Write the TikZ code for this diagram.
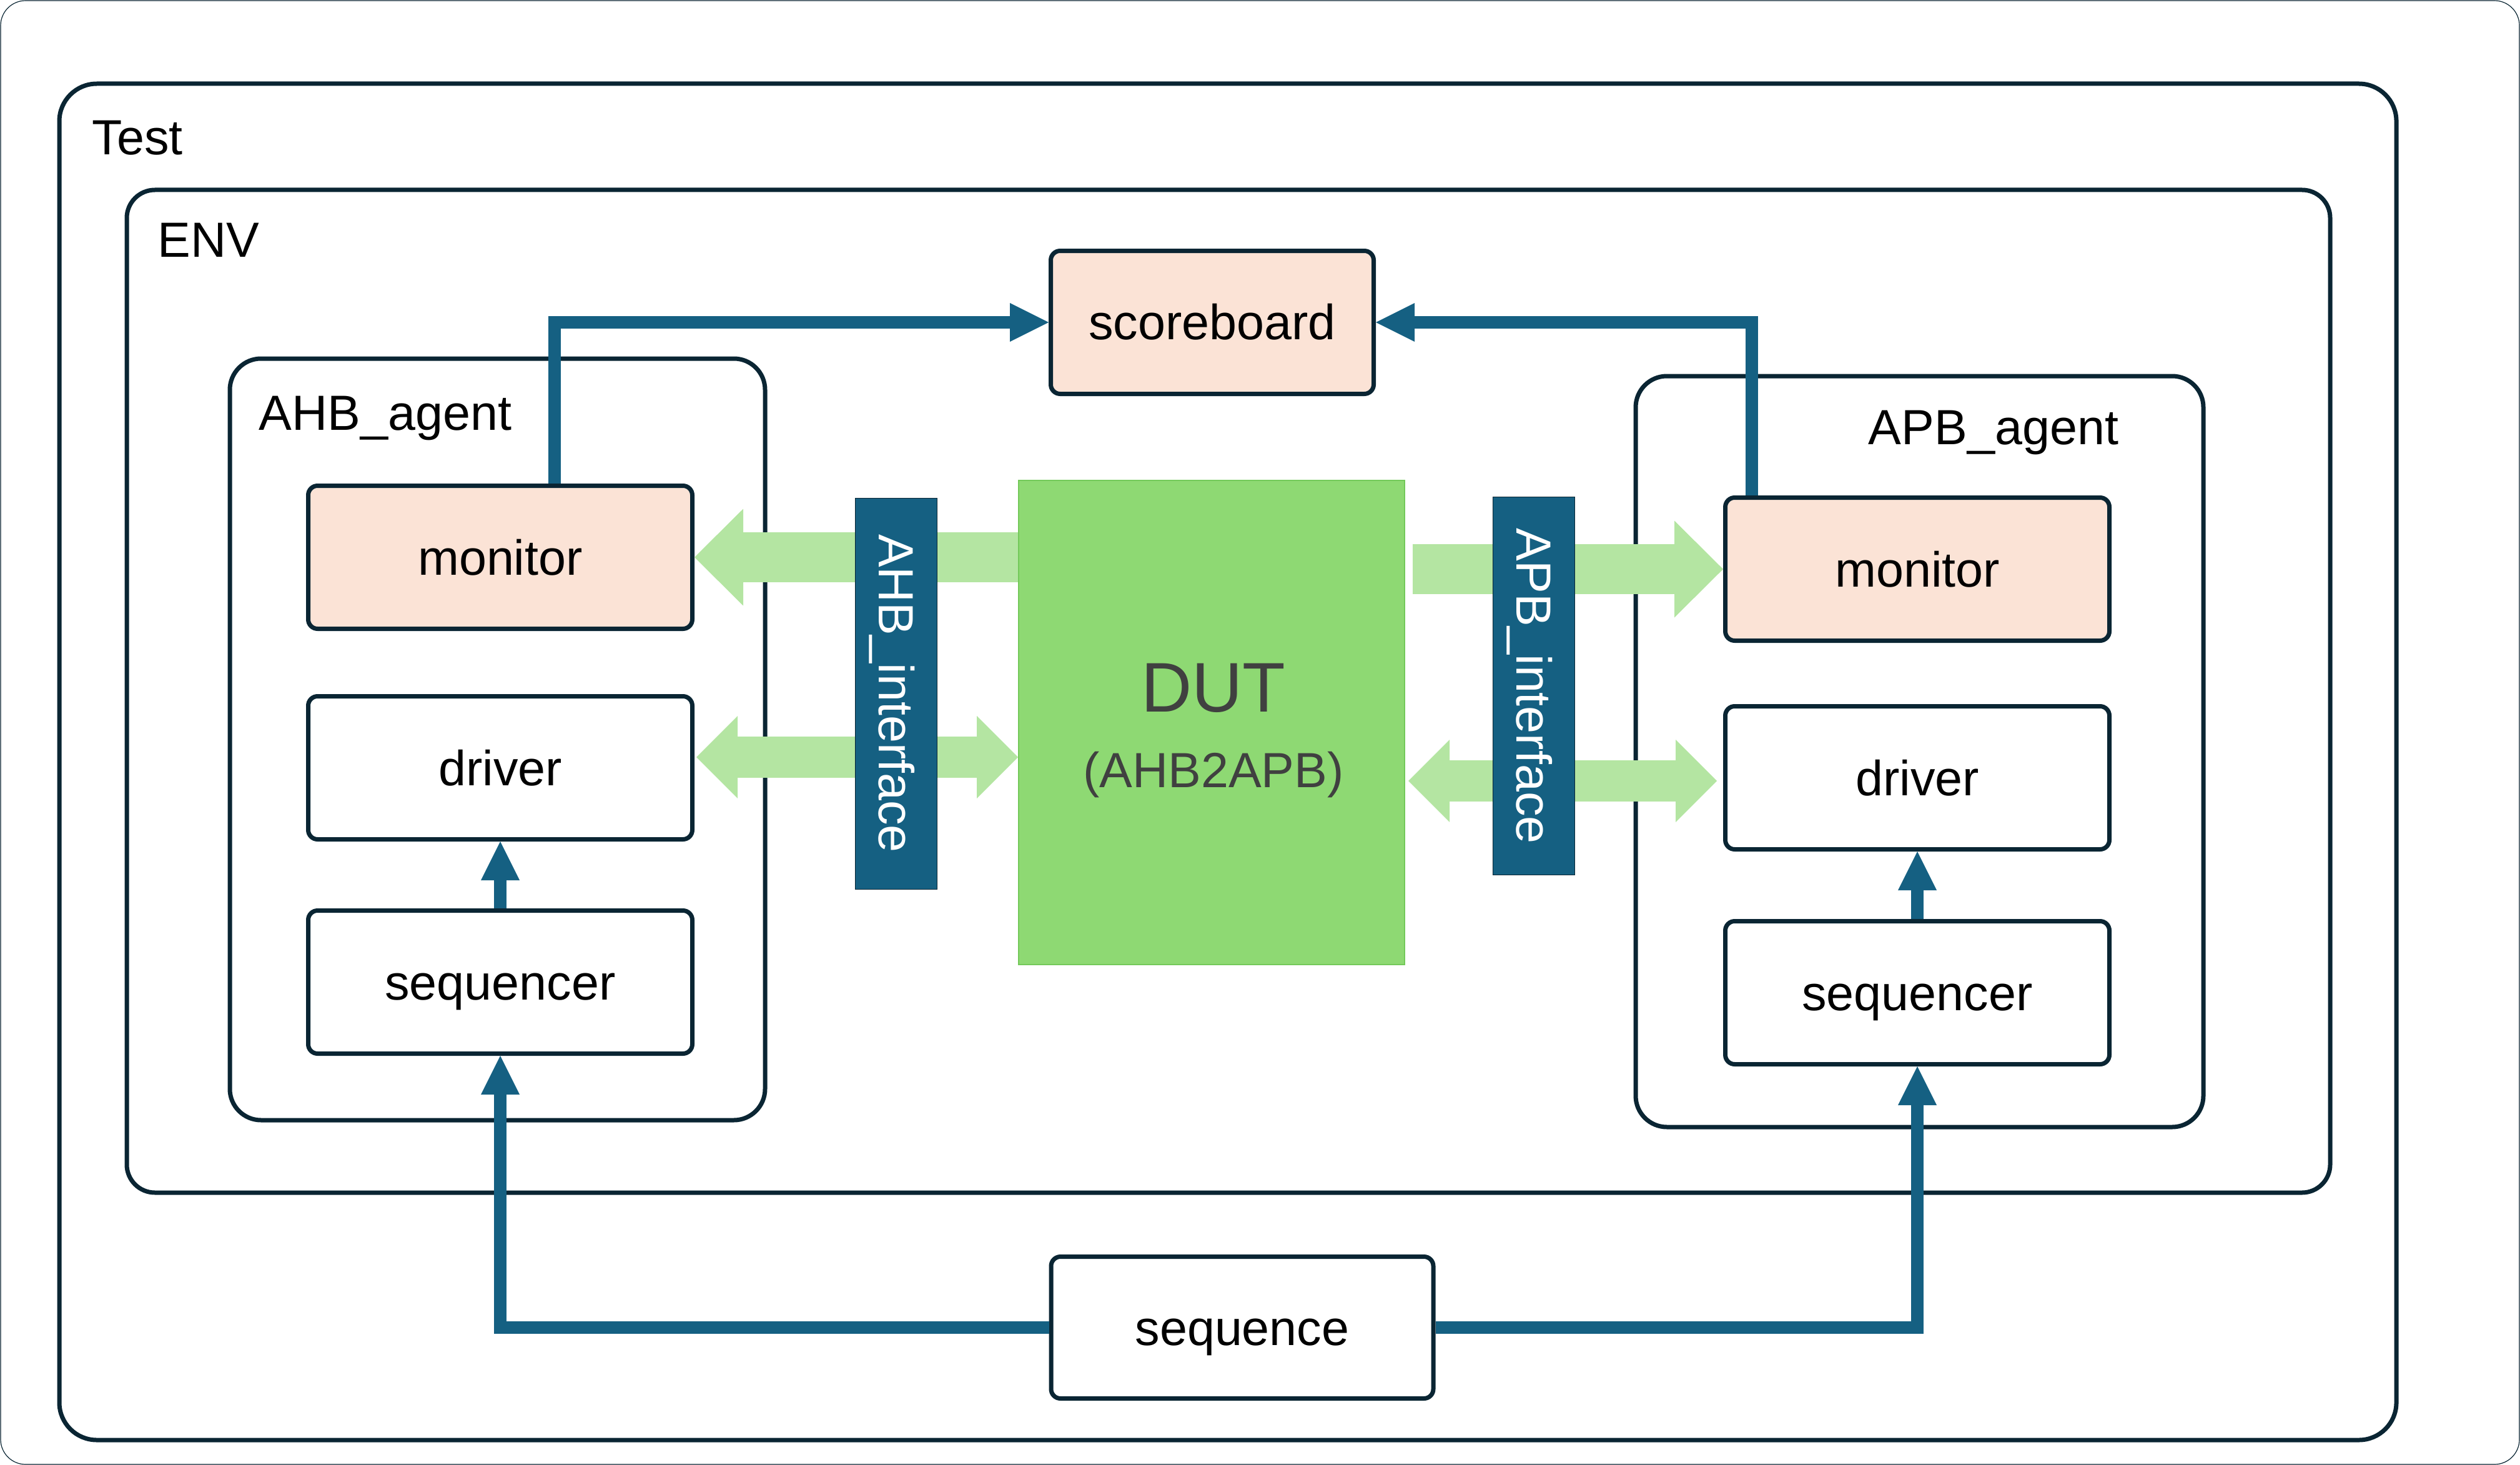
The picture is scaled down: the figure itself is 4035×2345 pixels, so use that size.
\documentclass[tikz,border=0pt]{standalone}
\usepackage{fontspec}
\setmainfont{Liberation Sans}
\usetikzlibrary{arrows.meta,calc}
\definecolor{framecol}{HTML}{0A2533}
\definecolor{linkteal}{HTML}{156082}
\definecolor{salmon}{HTML}{FBE3D6}
\definecolor{dutgreen}{HTML}{8ED973}
\definecolor{dutedge}{HTML}{74C95A}
\definecolor{busgreen}{HTML}{B4E5A2}
\definecolor{dutgray}{HTML}{404040}
\begin{document}
\begin{tikzpicture}[x=0.1mm,y=-0.1mm,
    every node/.style={font=\fontsize{22.5}{27}\selectfont},
    frame/.style={draw=framecol,line width=0.7mm},
    unit/.style={frame,rounded corners=1.5mm,minimum width=61.5mm,minimum height=22.9mm,
        inner sep=0pt,text height=6.3mm,text depth=0.7mm},
    mon/.style={unit,fill=salmon},
    link/.style={draw=linkteal,line width=2mm,line join=miter,
        -{Triangle[length=6.2mm,width=6.2mm,line width=0pt]}},
    bus/.style={draw=busgreen,line width=8mm,
        -{Triangle[length=7.8mm,width=15.5mm,line width=0pt]}},
    dbus/.style={draw=busgreen,line width=6.6mm,
        {Triangle[length=6.6mm,width=13.2mm,line width=0pt]}-{Triangle[length=6.6mm,width=13.2mm,line width=0pt]}},
    ifbar/.style={fill=linkteal,draw=framecol,line width=0.1mm,text=white,rotate=-90,
        minimum height=13.1mm,inner sep=0pt,text height=6.3mm,text depth=0.7mm}]
    \useasboundingbox (0,0) rectangle (4035,2345);
    \draw[draw=framecol,line width=0.12mm,rounded corners=4mm] (1,1) rectangle (4034,2344);

    \draw[frame,rounded corners=6mm] (95,134) rectangle (3837,2305);
    \draw[frame,rounded corners=4.5mm] (203,304) rectangle (3731,1909);
    \draw[frame,rounded corners=5mm] (368,574) rectangle (1225,1793);
    \draw[frame,rounded corners=5mm] (2619,602) rectangle (3528,1804);
    \node[anchor=base west,inner sep=0pt] (testlbl) at (147,248) {Test};
    \node[anchor=base west,inner sep=0pt] (envlbl) at (252,412) {ENV};
    \node[anchor=base west,inner sep=0pt] (ahblbl) at (414,688) {AHB\_agent};
    \node[anchor=base,inner sep=0pt] (apblbl) at (3192,711) {APB\_agent};

    \node[mon,minimum width=51.7mm] (score) at (1941,516) {scoreboard};
    \node[mon] (ahbmon) at (801,892) {monitor};
    \node[unit] (ahbdrv) at (801,1229) {driver};
    \node[unit] (ahbseq) at (801,1572) {sequencer};
    \node[mon] (apbmon) at (3070,911) {monitor};
    \node[unit] (apbdrv) at (3070,1245) {driver};
    \node[unit] (apbseq) at (3070,1589) {sequencer};
    \node[unit,minimum width=61.2mm,minimum height=22.7mm] (seq) at (1989,2125) {sequence};

    \node[fill=dutgreen,draw=dutedge,line width=0.2mm,minimum width=61.8mm,minimum height=77.5mm] (dut) at (1940,1156) {};
    \node[font=\fontsize{32}{38}\selectfont,text=dutgray] (duttitle) at (1943,1101) {DUT};
    \node[text=dutgray] (dutsub) at (1943,1240) {(AHB2APB)};

    \coordinate (ahbbus) at ($(ahbdrv.east)+(3,-17)$);
    \coordinate (apbbus) at ($(apbdrv.west)+(-10,5)$);
    \draw[bus] (dut.west |- ahbmon.east) -- (ahbmon.east);
    \draw[dbus] (ahbbus) -- (ahbbus -| dut.west);
    \draw[bus] ($(dut.east |- apbmon.west)+(12,0)$) -- (apbmon.west);
    \draw[dbus] ($(apbbus -| dut.east)+(5,0)$) -- (apbbus);

    \node[ifbar,minimum width=62.6mm] (ahbif) at (1435,1110) {AHB\_interface};
    \node[ifbar,minimum width=60.5mm] (apbif) at (2456,1098) {APB\_interface};

    \draw[link] ($(ahbmon.north)+(87,0)$) |- (score.west);
    \draw[link] ($(apbmon.north)+(-265,0)$) |- (score.east);
    \draw[link] (ahbseq.north) -- (ahbdrv.south);
    \draw[link] (apbseq.north) -- (apbdrv.south);
    \draw[link] (seq.west) -| (ahbseq.south);
    \draw[link] (seq.east) -| (apbseq.south);
\end{tikzpicture}
\end{document}
